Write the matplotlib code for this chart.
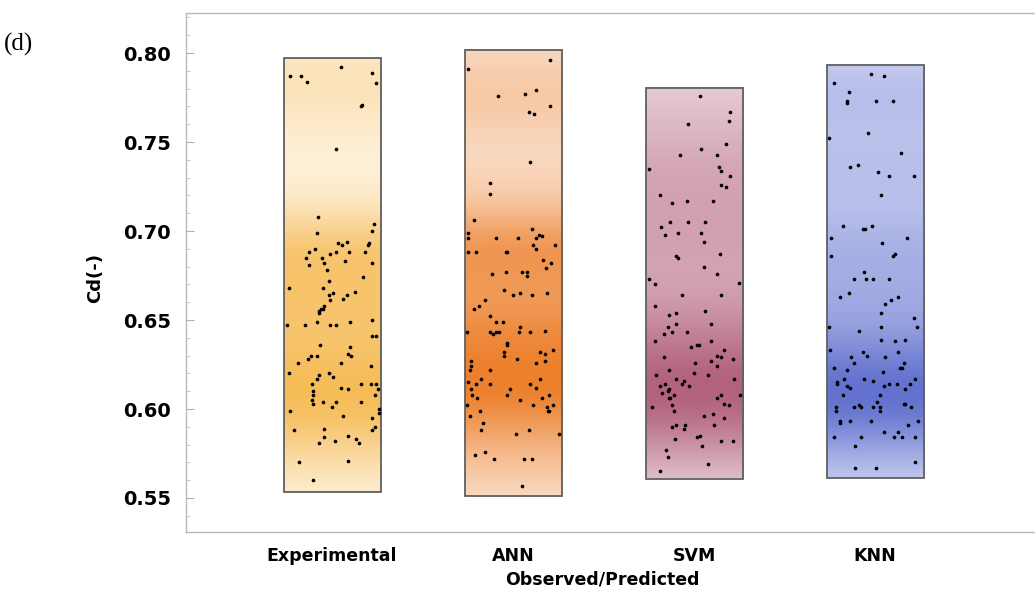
import numpy as np
import matplotlib.pyplot as plt
from matplotlib.patches import Rectangle

categories = ['Experimental', 'ANN', 'SVM', 'KNN']

# observed / predicted Cd values and their horizontal jitter (fraction of box width)
exp_cd = [0.787, 0.787, 0.784, 0.792, 0.789, 0.783, 0.770, 0.771, 0.746, 0.708, 0.699, 0.704, 0.700, 0.693,
          0.692, 0.694, 0.693, 0.692, 0.690, 0.688, 0.685, 0.685, 0.687, 0.688, 0.688, 0.688, 0.681, 0.682,
          0.683, 0.682, 0.678,
          0.674, 0.668, 0.672, 0.668, 0.664, 0.665, 0.666, 0.664, 0.662, 0.661, 0.658, 0.656, 0.655, 0.654,
          0.656, 0.649, 0.647, 0.647, 0.647, 0.647, 0.649, 0.650, 0.641, 0.641, 0.636, 0.635, 0.630, 0.628,
          0.630, 0.631, 0.630, 0.626, 0.626, 0.624, 0.620, 0.620, 0.619, 0.617, 0.618, 0.614, 0.612, 0.611,
          0.614, 0.614, 0.614, 0.611, 0.610, 0.608, 0.608, 0.605, 0.603, 0.604, 0.604, 0.604, 0.601, 0.600,
          0.598, 0.599, 0.596, 0.595, 0.590, 0.588, 0.588, 0.589, 0.584, 0.582, 0.585, 0.583, 0.581, 0.581,
          0.570, 0.571, 0.560]
exp_jit = [-0.43, -0.32, -0.26, 0.09, 0.41, 0.45, 0.30, 0.31, 0.04, -0.14, -0.15, 0.43, 0.41, 0.06, 0.10,
           0.15, 0.38, 0.37, -0.18, -0.24, -0.27, -0.10, -0.02, 0.04, 0.17, 0.34, -0.24, -0.08, 0.13, 0.41,
           -0.05,
           0.32, -0.44, -0.03, -0.09, -0.03, 0.01, 0.24, 0.15, 0.11, -0.02, -0.08, -0.11, -0.13, -0.13, -0.09,
           -0.16, -0.46, -0.28, -0.02, 0.04, 0.19, 0.41, 0.41, 0.45, -0.12, 0.19, -0.22, -0.25, -0.16, 0.16,
           0.20, -0.35, 0.09, 0.40, -0.44, -0.03, -0.13, -0.16, 0.01, -0.21, 0.09, 0.16, 0.30, 0.40, 0.45,
           0.47, -0.20, -0.20, 0.44, -0.21, -0.20, -0.09, 0.04, 0.30, 0.00, 0.48, 0.48, -0.43, 0.11, 0.41,
           0.44, 0.41, -0.39, -0.08, -0.08, 0.03, 0.16, 0.25, 0.28, -0.13, -0.34, 0.16, -0.20]

ann_cd = [0.796, 0.776, 0.777, 0.779, 0.770, 0.767, 0.766, 0.739, 0.727, 0.721, 0.706, 0.696, 0.696, 0.701,
          0.696, 0.698, 0.697, 0.692, 0.690, 0.692, 0.688, 0.688, 0.688, 0.684, 0.682, 0.679, 0.676, 0.677,
          0.677, 0.677,
          0.675, 0.667, 0.664, 0.665, 0.664, 0.665, 0.661, 0.656, 0.658, 0.652, 0.649, 0.649, 0.643, 0.642,
          0.643, 0.643, 0.646, 0.643, 0.643, 0.644, 0.637, 0.636, 0.632, 0.630, 0.628, 0.632, 0.631, 0.633,
          0.626, 0.627, 0.627, 0.624, 0.622, 0.617, 0.614, 0.614, 0.611, 0.608, 0.611, 0.614, 0.612, 0.617,
          0.608, 0.605, 0.606, 0.606, 0.608, 0.602, 0.601, 0.599, 0.599, 0.602, 0.599, 0.592, 0.588, 0.586,
          0.588, 0.586, 0.574, 0.576, 0.572, 0.572, 0.572, 0.557,
          0.791, 0.699, 0.696, 0.688, 0.643, 0.622, 0.615, 0.596, 0.602]
ann_jit = [0.38, -0.16, 0.12, 0.24, 0.38, 0.16, 0.22, 0.17, -0.24, -0.24, -0.40, -0.18, 0.05, 0.20, 0.24,
           0.27, 0.30, 0.21, 0.24, 0.43, -0.38, -0.07, -0.06, 0.31, 0.39, 0.34, -0.22, -0.07, 0.09, 0.14,
           0.14, -0.09, 0.00, 0.07, 0.20, 0.35, -0.29, -0.40, -0.35, -0.24, -0.18, -0.10, -0.24, -0.21, -0.18,
           -0.14, 0.07, 0.06, 0.18, 0.33, -0.06, -0.06, -0.09, -0.09, 0.04, 0.28, 0.33, 0.41, 0.24, 0.33,
           -0.43, -0.43, -0.24, -0.33, -0.24, -0.38, -0.43, -0.42, -0.03, 0.17, 0.24, 0.28, -0.06, 0.07,
           -0.37, 0.30, 0.37, 0.21, 0.35, 0.36, 0.37, 0.41, -0.34, -0.31, -0.33, 0.03, 0.16, 0.47, -0.39,
           -0.29, -0.20, 0.11, 0.20, 0.09,
           -0.46, -0.46, -0.46, -0.46, -0.47, -0.44, -0.46, -0.44, -0.47]

svm_cd = [0.776, 0.767, 0.762, 0.760, 0.749, 0.746, 0.743, 0.743, 0.736, 0.734, 0.731, 0.726, 0.725, 0.720,
          0.716, 0.717, 0.717, 0.705, 0.705, 0.705, 0.702, 0.698, 0.699, 0.699, 0.694, 0.686, 0.685, 0.687,
          0.680, 0.676, 0.670, 0.671,
          0.664, 0.664, 0.653, 0.654, 0.655, 0.646, 0.648, 0.648, 0.642, 0.643, 0.643, 0.638, 0.638, 0.635,
          0.636, 0.636, 0.633, 0.629, 0.630, 0.629, 0.626, 0.627, 0.628, 0.624, 0.622, 0.620, 0.619, 0.617,
          0.619, 0.616, 0.614, 0.613, 0.614, 0.613, 0.617, 0.611, 0.610, 0.609, 0.606, 0.608, 0.606, 0.601,
          0.602, 0.599, 0.606, 0.608, 0.603, 0.602, 0.608, 0.597, 0.596, 0.595, 0.591, 0.590, 0.591, 0.591,
          0.589, 0.583, 0.584, 0.585, 0.579, 0.582, 0.582, 0.577, 0.573, 0.569, 0.565,
          0.735, 0.673, 0.658]
svm_jit = [0.06, 0.37, 0.36, -0.06, 0.33, 0.07, -0.14, 0.24, 0.26, 0.28, 0.37, 0.28, 0.33, -0.35, -0.23,
           -0.07, 0.20, -0.25, -0.06, 0.11, -0.34, -0.30, -0.16, 0.07, 0.10, -0.19, -0.17, 0.27, 0.10, 0.24,
           -0.40, 0.46,
           -0.12, 0.28, -0.26, -0.19, 0.11, -0.27, -0.19, 0.17, -0.31, -0.23, -0.07, -0.40, 0.18, -0.03,
           0.03, 0.05, 0.31, -0.31, 0.24, 0.28, 0.01, 0.18, 0.40, 0.24, -0.26, 0.00, -0.39, -0.19, 0.14,
           -0.10, -0.12, -0.35, -0.30, -0.05, 0.41, -0.26, -0.27, -0.33, -0.26, -0.21, -0.25, -0.43, -0.23,
           -0.21, 0.24, 0.28, 0.31, 0.36, 0.47, 0.20, 0.10, 0.31, 0.21, -0.23, -0.19, -0.09, -0.10, -0.20,
           0.03, 0.06, 0.08, 0.28, 0.40, -0.29, -0.27, 0.14, -0.35,
           -0.46, -0.46, -0.40]

knn_cd = [0.788, 0.787, 0.783, 0.778, 0.773, 0.772, 0.773, 0.773, 0.752, 0.755, 0.744, 0.736, 0.737, 0.733,
          0.731, 0.731, 0.720, 0.703, 0.701, 0.701, 0.703, 0.696, 0.696, 0.693, 0.686, 0.686, 0.687, 0.677,
          0.673, 0.673, 0.673, 0.673, 0.663, 0.665, 0.659, 0.661, 0.663, 0.654, 0.651, 0.646, 0.644, 0.646,
          0.646, 0.639, 0.638, 0.639, 0.633, 0.632, 0.630, 0.629, 0.632, 0.629, 0.626, 0.626, 0.623, 0.622,
          0.623, 0.623, 0.621, 0.617, 0.615, 0.614, 0.617, 0.616, 0.617, 0.613, 0.612, 0.613, 0.614, 0.614,
          0.614, 0.611, 0.608, 0.608, 0.604, 0.602, 0.601, 0.601, 0.601, 0.601, 0.599, 0.601, 0.599, 0.603,
          0.603, 0.601, 0.593, 0.592, 0.593, 0.593, 0.593, 0.591, 0.584, 0.584, 0.587, 0.587, 0.584, 0.584,
          0.584, 0.579, 0.567, 0.567, 0.570]
knn_jit = [-0.04, 0.09, -0.42, -0.27, -0.29, -0.29, 0.01, 0.19, -0.47, -0.07, 0.27, -0.26, -0.18, 0.03,
           0.14, 0.40, 0.06, -0.33, -0.12, -0.10, -0.03, -0.45, 0.33, 0.07, -0.45, 0.19, 0.21, -0.11,
           -0.22, -0.09, -0.02, 0.14, -0.36, -0.27, 0.10, 0.16, 0.24, 0.06, 0.40, -0.47, -0.16, 0.06, 0.43,
           0.06, 0.21, 0.31, -0.46, -0.12, -0.08, -0.25, 0.24, 0.10, -0.22, 0.30, -0.42, -0.29, 0.26, 0.28,
           0.08, -0.32, -0.39, -0.39, -0.11, -0.02, 0.41, -0.29, -0.26, 0.09, 0.14, 0.23, 0.36, 0.31, -0.33,
           0.05, 0.02, -0.16, -0.14, -0.22, -0.02, 0.05, 0.05, -0.40, -0.40, 0.30, 0.31, 0.37, -0.36, -0.36,
           -0.26, -0.04, 0.44, 0.34, -0.42, -0.14, 0.09, 0.24, 0.20, 0.28, 0.41, -0.21, -0.21, 0.01, 0.41]

# range covered by each shaded box
box_lo = [0.5535, 0.5510, 0.5605, 0.5612]
box_hi = [0.7975, 0.8017, 0.7805, 0.7931]

# light / dense colour of each box
pale = [(254, 243, 224), (251, 229, 212), (237, 216, 224), (216, 220, 245)]
dense = [(246, 188, 88), (236, 128, 44), (178, 98, 126), (98, 114, 206)]

all_cd = [exp_cd, ann_cd, svm_cd, knn_cd]
all_jit = [exp_jit, ann_jit, svm_jit, knn_jit]

fig = plt.figure(figsize=(10.35, 5.97), dpi=100)
ax = fig.add_axes([0.1797, 0.1089, 0.8203, 0.8693])

width = 0.536
for i in range(4):
    xc = i + 1
    cd = np.array(all_cd[i])
    jit = np.array(all_jit[i])
    # density shading along the box
    yy = np.linspace(box_lo[i], box_hi[i], 300)
    dens = np.exp(-(yy[:, None] - cd[None, :])**2 / (2 * 0.015**2)).sum(axis=1)
    dens = (dens / dens.max())**0.85
    p = np.array(pale[i]) / 255.0
    d = np.array(dense[i]) / 255.0
    img = p[None, :] * (1 - dens[:, None]) + d[None, :] * dens[:, None]
    ax.imshow(img[:, None, :], extent=[xc - width/2, xc + width/2, box_lo[i], box_hi[i]],
              origin='lower', aspect='auto', interpolation='bilinear', zorder=1)
    ax.add_patch(Rectangle((xc - width/2, box_lo[i]), width, box_hi[i] - box_lo[i],
                           fill=False, edgecolor='#606060', linewidth=1.3, zorder=2))
    ax.scatter(xc + jit * width, cd, s=7, color='black', linewidths=0, zorder=3)

ax.set_xlim(0.193, 4.884)
ax.set_ylim(0.5309, 0.8225)

ax.set_yticks([0.55, 0.60, 0.65, 0.70, 0.75, 0.80])
ax.set_yticks(np.arange(0.54, 0.821, 0.01), minor=True)
ax.set_yticklabels(['0.55', '0.60', '0.65', '0.70', '0.75', '0.80'], fontweight='bold')
ax.set_xticks([1, 2, 3, 4])
ax.set_xticklabels(categories, fontweight='bold')
ax.tick_params(axis='y', which='major', direction='in', length=6, width=0.8, color='#b0b0b0',
               labelsize=14, pad=11)
ax.tick_params(axis='y', which='minor', direction='in', length=3, width=0.6, color='#c0c0c0')
ax.tick_params(axis='x', length=0, labelsize=12.5, pad=11)

for s in ['top', 'bottom', 'left']:
    ax.spines[s].set_color('#b8b8b8')
    ax.spines[s].set_linewidth(1.0)
ax.spines['right'].set_visible(False)

ax.set_ylabel('Cd(-)', fontsize=13, fontweight='bold')
ax.yaxis.set_label_coords(-0.097, 0.49)
ax.set_xlabel('Observed/Predicted', fontsize=12.5, fontweight='bold')
ax.xaxis.set_label_coords(0.49, -0.075)

fig.text(0.004, 0.926, '(d)', fontsize=18, family='Liberation Serif', va='center', ha='left')

fig.savefig('out.png', dpi=100)
